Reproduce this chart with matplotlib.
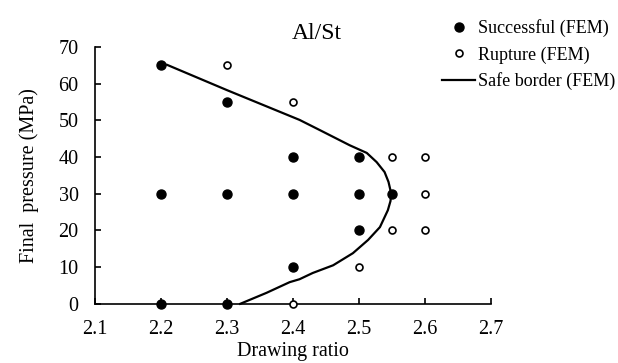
import numpy as np
import matplotlib.pyplot as plt

plt.rcParams['font.family'] = ['Liberation Serif', 'DejaVu Serif']

# Successful (FEM)
succ_x = [2.2, 2.3, 2.2, 2.3, 2.4, 2.4, 2.5, 2.5, 2.55, 2.5, 2.4, 2.2, 2.3]
succ_y = [65, 55, 30, 30, 40, 30, 40, 30, 30, 20, 10, 0, 0]

# Rupture (FEM)
rup_x = [2.3, 2.4, 2.55, 2.6, 2.6, 2.55, 2.6, 2.5, 2.4]
rup_y = [65, 55, 40, 40, 30, 20, 20, 10, 0]

# Safe border (FEM)
border_x = [2.209, 2.30, 2.41, 2.441, 2.486, 2.512, 2.527, 2.539, 2.545, 2.549,
            2.548, 2.544, 2.532, 2.514, 2.491, 2.461, 2.430, 2.41, 2.395, 2.36, 2.32]
border_y = [65.1, 58.2, 50.1, 47.3, 43.2, 41.1, 38.6, 35.9, 33.2, 30.1,
            28.0, 25.5, 20.9, 17.4, 13.8, 10.5, 8.4, 6.7, 5.9, 3.0, 0]

fig = plt.figure(figsize=(6.18, 3.63), dpi=100)
ax = fig.add_axes([0.154, 0.163, 0.640, 0.708])

l1, = ax.plot(succ_x, succ_y, 'o', color='black', markersize=6.5, clip_on=False, zorder=3)
l2, = ax.plot(rup_x, rup_y, 'o', markerfacecolor='white', markeredgecolor='black',
              markersize=5, markeredgewidth=1.2, clip_on=False, zorder=3)
l3, = ax.plot(border_x, border_y, '-', color='black', linewidth=1.6, clip_on=False,
              zorder=2, solid_joinstyle='round')

ax.set_xlim(2.1, 2.7)
ax.set_ylim(0, 70)
ax.set_xticks(np.arange(2.1, 2.71, 0.1))
ax.set_yticks(range(0, 71, 10))
ax.set_xticklabels(['2.1', '2.2', '2.3', '2.4', '2.5', '2.6', '2.7'])
ax.tick_params(direction='in', length=4, width=1.2, labelsize=14.5)
ax.tick_params(axis='x', pad=11.5)
ax.tick_params(axis='y', pad=12)
for s in ['top', 'right']:
    ax.spines[s].set_visible(False)
for s in ['left', 'bottom']:
    ax.spines[s].set_linewidth(1.2)

ax.set_xlabel('Drawing ratio', fontsize=14.5, labelpad=2)
ax.set_ylabel('Final  pressure (MPa)', fontsize=14.5, labelpad=14)
fig.text(0.513, 0.909, 'Al/St', fontsize=17, ha='center', va='center')

fig.legend([l1, l2, l3], ['Successful (FEM)', 'Rupture (FEM)', 'Safe border (FEM)'],
           loc='upper left', bbox_to_anchor=(0.715, 0.947), frameon=False, fontsize=13,
           handlelength=1.85, handletextpad=0.17, labelspacing=0.5, borderaxespad=0,
           borderpad=0)

plt.savefig('out.png', dpi=100)
